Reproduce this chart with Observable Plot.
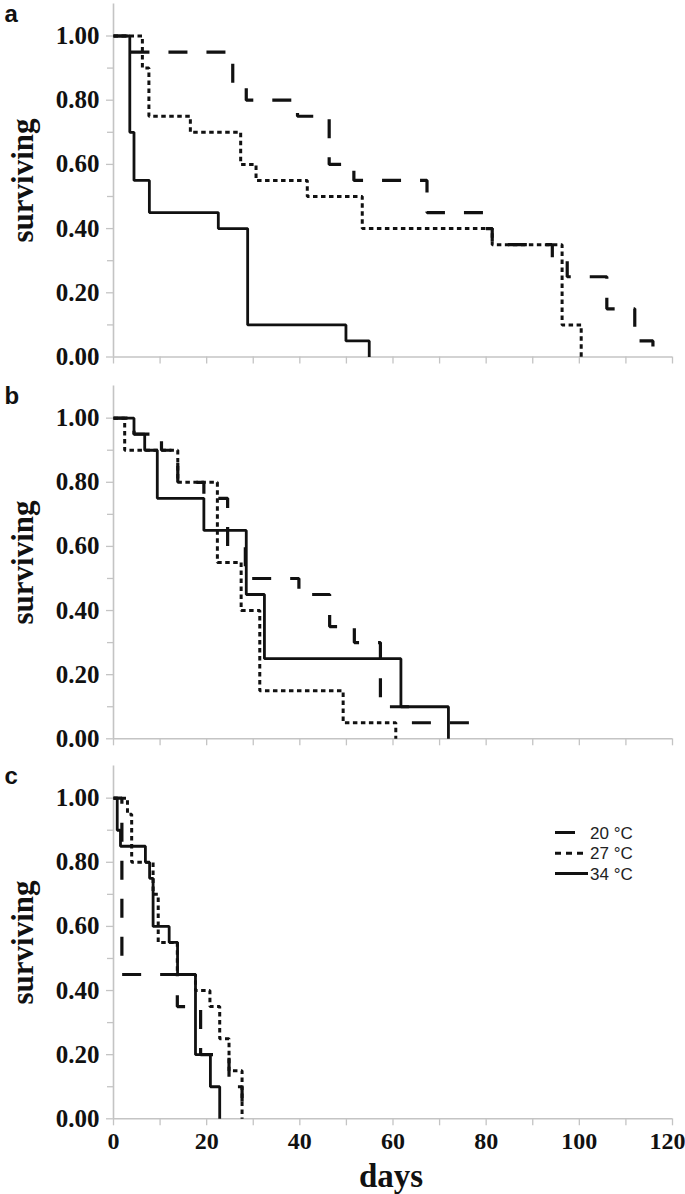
<!DOCTYPE html>
<html>
<head>
<meta charset="utf-8">
<script src="https://cdn.jsdelivr.net/npm/d3@7"></script>
<script src="https://cdn.jsdelivr.net/npm/@observablehq/plot@0.6"></script>
<style>
html, body { margin: 0; padding: 0; background: #fff; }
#wrap { position: relative; width: 685px; height: 1194px; overflow: hidden; background: #fff; }
#wrap .panel { position: absolute; left: 0; }
</style>
</head>
<body>
<div id="wrap"></div>
<script>
// ---- series names ----
const temps = ["20 °C", "27 °C", "34 °C"];

// ---- panel a ----
const aDays20 = [0, 3.7, 25.6, 28.5, 39.5, 46.3, 51.6, 67.3, 79.5, 81.3, 94.2, 97.4, 105.9, 111.9, 115.8];
const aSurv20 = [1, 0.95, 0.85, 0.80, 0.75, 0.60, 0.55, 0.45, 0.40, 0.35, 0.30, 0.25, 0.15, 0.05, 0];
const aDays27 = [0, 6.2, 7.6, 16.5, 27.3, 30.6, 41.6, 53.4, 81.3, 96.3, 100.4];
const aSurv27 = [1, 0.90, 0.75, 0.70, 0.60, 0.55, 0.50, 0.40, 0.35, 0.10, 0];
const aDays34 = [0, 3.5, 4.4, 7.7, 22.5, 28.8, 49.9, 54.9];
const aSurv34 = [1, 0.70, 0.55, 0.45, 0.40, 0.10, 0.05, 0];

// ---- panel b ----
const bDays20 = [0, 4.4, 10.3, 13.8, 19.4, 24.5, 28.3, 39.8, 46.4, 51.7, 57.3, 63.9, 79.5];
const bSurv20 = [1, 0.95, 0.90, 0.80, 0.75, 0.60, 0.50, 0.45, 0.35, 0.30, 0.10, 0.05, 0.05];
const bDays27 = [0, 2.4, 13.8, 22.3, 27.4, 31.4, 49.3, 60.6];
const bSurv27 = [1, 0.90, 0.80, 0.55, 0.40, 0.15, 0.05, 0];
const bDays34 = [0, 4.4, 6.7, 9.4, 19.4, 28.5, 32.4, 61.7, 71.9];
const bSurv34 = [1, 0.95, 0.90, 0.75, 0.65, 0.45, 0.25, 0.10, 0];

// ---- panel c ----
const cDays20 = [0, 1.8, 13.7, 18.7, 24.8, 27.6, 30.8];
const cSurv20 = [1, 0.45, 0.35, 0.20, 0.10, 0.05, 0.05];
const cDays27 = [0, 3.0, 3.9, 8.5, 9.6, 13.7, 17.6, 20.7, 22.8, 24.8, 27.6];
const cSurv27 = [1, 0.95, 0.80, 0.70, 0.55, 0.45, 0.40, 0.35, 0.25, 0.15, 0];
const cDays34 = [0, 0.8, 1.5, 6.85, 7.75, 8.5, 11.95, 13.75, 17.6, 20.8, 22.8];
const cSurv34 = [1, 0.90, 0.85, 0.80, 0.75, 0.60, 0.55, 0.45, 0.20, 0.10, 0];

// ---- ticks ----
const yMajor = [0, 0.2, 0.4, 0.6, 0.8, 1.0];
const yMinor = [0.1, 0.3, 0.5, 0.7, 0.9];
const xTicks = [0, 10, 20, 30, 40, 50, 60, 70, 80, 90, 100, 110, 120];
const xLabels = [0, 20, 40, 60, 80, 100, 120];

// ---- styling ----
const AXIS = "#c4c4c4";
const INK = "#111";
const SERIF = "'Liberation Serif', 'Times New Roman', serif";
const SANS = "'Liberation Sans', Arial, sans-serif";
const lineStyle = {
  "20 °C": {w: 3.2, dash: "19,19", off: 5},
  "27 °C": {w: 3.0, dash: "4.5,3.5", off: 0},
  "34 °C": {w: 2.8, dash: null, off: 0}
};

function rows(days, surv, temp) {
  return days.map((d, i) => ({day: d, surv: surv[i], temp}));
}

function panel(cfg) {
  const marks = [
    Plot.ruleX([0], {stroke: AXIS, strokeWidth: 1.6}),
    Plot.ruleY([0], {stroke: AXIS, strokeWidth: 1.6}),
    Plot.axisY(yMinor, {tickSize: 6, tickFormat: () => "", stroke: AXIS, strokeWidth: 1.3, label: null}),
    Plot.axisY(yMajor, {
      tickSize: 7, tickPadding: 7, tickFormat: d3.format(".2f"),
      stroke: AXIS, strokeWidth: 1.3, fill: INK,
      fontSize: 25, fontWeight: "bold", fontFamily: SERIF, label: null
    }),
    Plot.axisX(xTicks, {
      tickSize: 7, tickPadding: 6,
      tickFormat: cfg.showX ? (d => xLabels.includes(d) ? String(d) : "") : () => "",
      stroke: AXIS, strokeWidth: 1.3, fill: INK,
      fontSize: 24, fontWeight: "bold", fontFamily: SERIF, label: null
    }),
    ...temps.map(t => Plot.line(cfg.data.filter(r => r.temp === t), {
      x: "day", y: "surv", curve: "step-after",
      stroke: INK, strokeWidth: lineStyle[t].w,
      strokeDasharray: lineStyle[t].dash, strokeDashoffset: lineStyle[t].off,
      strokeLinecap: "butt", strokeLinejoin: "miter"
    })),
    Plot.text([cfg.letter], {
      frameAnchor: "top-left", dx: -109, dy: 18, textAnchor: "start", lineAnchor: "bottom",
      fontSize: 24, fontWeight: "bold", fontFamily: SANS, fill: INK
    }),
    Plot.text(["surviving"], {
      frameAnchor: "left", dx: -90, rotate: -90, textAnchor: "middle", lineAnchor: "middle",
      fontSize: 31, fontWeight: "bold", fontFamily: SERIF, fill: INK
    })
  ];
  if (cfg.showX) {
    marks.push(Plot.text(["days"], {
      frameAnchor: "bottom", dx: -2, dy: 68, textAnchor: "middle", lineAnchor: "bottom",
      fontSize: 33, fontWeight: "bold", fontFamily: SERIF, fill: INK
    }));
  }
  const svg = Plot.plot({
    width: 685, height: cfg.height,
    marginLeft: 113, marginRight: 13, marginTop: cfg.mt, marginBottom: cfg.mb,
    x: {domain: [0, 120]},
    y: {domain: [0, 1.1]},
    style: {background: "transparent", overflow: "visible"},
    marks
  });
  // keep the last x tick label ("120") inside the page, as in the reference
  d3.select(svg).selectAll("text").filter(function () { return this.textContent === "120"; })
    .attr("text-anchor", "end").attr("dx", 13);
  return svg;
}

const panels = [
  {letter: "a", top: 0, height: 381, mt: 3.4, mb: 24.5, showX: false,
   data: [...rows(aDays20, aSurv20, temps[0]), ...rows(aDays27, aSurv27, temps[1]), ...rows(aDays34, aSurv34, temps[2])]},
  {letter: "b", top: 381, height: 381, mt: 4.6, mb: 23.7, showX: false,
   data: [...rows(bDays20, bSurv20, temps[0]), ...rows(bDays27, bSurv27, temps[1]), ...rows(bDays34, bSurv34, temps[2])]},
  {letter: "c", top: 762, height: 432, mt: 3.6, mb: 75.7, showX: true,
   data: [...rows(cDays20, cSurv20, temps[0]), ...rows(cDays27, cSurv27, temps[1]), ...rows(cDays34, cSurv34, temps[2])]}
];

const wrap = document.getElementById("wrap");
for (const p of panels) {
  const div = document.createElement("div");
  div.className = "panel";
  div.style.top = p.top + "px";
  div.appendChild(panel(p));
  wrap.appendChild(div);
}

// ---- legend (panel c) ----
const legendRows = [
  {temp: temps[0], y: 832.5, x2: 575},
  {temp: temps[1], y: 853.3, x2: 588},
  {temp: temps[2], y: 873.6, x2: 588}
];
const lg = d3.select(wrap).append("svg")
  .attr("width", 685).attr("height", 1194)
  .style("position", "absolute").style("left", "0px").style("top", "0px")
  .style("pointer-events", "none");
for (const r of legendRows) {
  lg.append("line")
    .attr("x1", 555).attr("x2", r.x2).attr("y1", r.y).attr("y2", r.y)
    .attr("stroke", INK).attr("stroke-width", 3)
    .attr("stroke-dasharray", r.temp === temps[1] ? "6,5" : null);
  lg.append("text")
    .attr("x", 590).attr("y", r.y).attr("dy", "0.36em")
    .attr("font-family", SANS)
    .attr("font-size", 17).attr("fill", "#222")
    .text(r.temp);
}
</script>
</body>
</html>
